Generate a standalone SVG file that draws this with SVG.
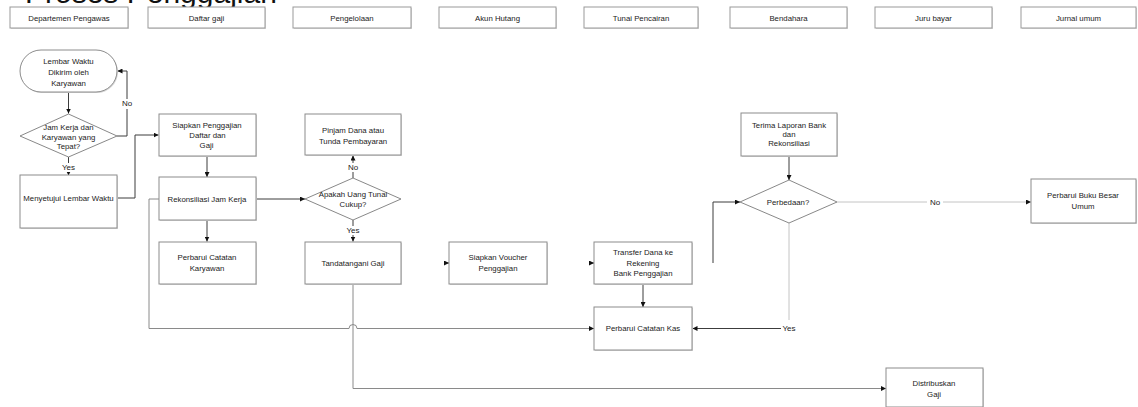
<svg xmlns="http://www.w3.org/2000/svg" width="1138" height="407" viewBox="0 0 1138 407">
  <style>
    text { font-family: "Liberation Sans", Arial, sans-serif; font-size: 7.8px; fill: #222; text-anchor: middle; }
    .title { font-size: 30px; fill: #111; text-anchor: start; }
    .lbl { font-size: 8px; }
    .box { fill: #fff; stroke: #8c8c8c; stroke-width: 1; }
    .shadow { fill: #d9d9d9; }
    .dia { fill: #fff; stroke: #7a7a7a; stroke-width: 0.9; }
    .lane { fill: #fff; stroke: #999; stroke-width: 1; }
    .c { fill: none; stroke: #3c3c3c; stroke-width: 1; }
    .cl { fill: none; stroke: #c4c4c4; stroke-width: 1; }
    .cm { fill: none; stroke: #8a8a8a; stroke-width: 1; }
    .bg { fill: #fff; }
  </style>
  <defs>
    <marker id="ah" markerWidth="5" markerHeight="5" refX="5" refY="2.5" orient="auto" markerUnits="userSpaceOnUse">
      <path d="M0,0 L5,2.5 L0,5 z" fill="#111"/>
    </marker>
  </defs>

  <rect width="1138" height="407" fill="#fff"/>

  <!-- heading, mostly above the top edge -->
  <text class="title" x="25" y="3">Proses Penggajian</text>

  <!-- swimlane headers -->
  <g id="lanes">
    <rect class="shadow" x="11" y="8" width="118" height="21"/><rect class="lane" x="10" y="7" width="118" height="21"/><text x="69" y="20.5">Departemen Pengawas</text>
    <rect class="shadow" x="149" y="8" width="117" height="21"/><rect class="lane" x="148" y="7" width="117" height="21"/><text x="206.5" y="20.5">Daftar gaji</text>
    <rect class="shadow" x="294" y="8" width="118" height="21"/><rect class="lane" x="293" y="7" width="118" height="21"/><text x="352" y="20.5">Pengelolaan</text>
    <rect class="shadow" x="440" y="8" width="117" height="21"/><rect class="lane" x="439" y="7" width="117" height="21"/><text x="497.5" y="20.5">Akun Hutang</text>
    <rect class="shadow" x="585" y="8" width="114" height="21"/><rect class="lane" x="584" y="7" width="114" height="21"/><text x="641" y="20.5">Tunai Pencairan</text>
    <rect class="shadow" x="731" y="8" width="117" height="21"/><rect class="lane" x="730" y="7" width="117" height="21"/><text x="788.5" y="20.5">Bendahara</text>
    <rect class="shadow" x="876" y="8" width="117" height="21"/><rect class="lane" x="875" y="7" width="117" height="21"/><text x="933.5" y="20.5">Juru bayar</text>
    <rect class="shadow" x="1022" y="8" width="115" height="21"/><rect class="lane" x="1021" y="7" width="115" height="21"/><text x="1078.5" y="20.5">Jurnal umum</text>
  </g>

  <!-- connectors -->
  <g id="connectors">
    <path class="c" d="M68.5,92 V113.5" marker-end="url(#ah)"/>
    <path class="c" d="M117,136 H127 V71 H117.5" marker-end="url(#ah)"/>
    <path class="c" d="M68.5,157 V175.5" marker-end="url(#ah)"/>
    <path class="c" d="M117,198 H135 V135 H158.5" marker-end="url(#ah)"/>
    <path class="c" d="M207,156 V177" marker-end="url(#ah)"/>
    <path class="c" d="M207,220 V241.5" marker-end="url(#ah)"/>
    <path class="c" d="M256,199 H305" marker-end="url(#ah)"/>
    <path class="c" d="M353,178 V155.5" marker-end="url(#ah)"/>
    <path class="c" d="M353,220 V241.5" marker-end="url(#ah)"/>
    <path class="cm" d="M159,199 H149 V328.5 H349 a4,4 0 0 1 8,0 H594" marker-end="url(#ah)"/>
    <path class="cm" d="M353,284 V388.5 H886" marker-end="url(#ah)"/>
    <path class="c" d="M444,263 H449" marker-end="url(#ah)"/>
    <path class="c" d="M589,263 H594" marker-end="url(#ah)"/>
    <path class="c" d="M643,284 V307" marker-end="url(#ah)"/>
    <path class="cl" d="M789,223 V320"/>
    <path class="c" d="M781,328.5 H692.5" marker-end="url(#ah)"/>
    <path class="c" d="M789,156 V180" marker-end="url(#ah)"/>
    <path class="c" d="M713,263 V202 H740" marker-end="url(#ah)"/>
    <path class="cl" d="M837,202 H1031" marker-end="url(#ah)"/>

    <rect class="bg" x="120" y="99" width="14" height="10"/>
    <text class="lbl" x="127" y="106">No</text>
    <rect class="bg" x="60" y="163" width="17" height="9"/>
    <text class="lbl" x="68.5" y="170">Yes</text>
    <rect class="bg" x="346" y="163" width="14" height="9"/>
    <text class="lbl" x="353" y="170">No</text>
    <rect class="bg" x="345" y="226" width="17" height="9"/>
    <text class="lbl" x="353" y="233">Yes</text>
    <rect class="bg" x="927" y="197" width="16" height="10"/>
    <text class="lbl" x="935" y="205">No</text>
    <text class="lbl" x="789" y="331">Yes</text>
  </g>

  <!-- nodes -->
  <g id="n-lembar">
    <rect class="shadow" x="21" y="51" width="97" height="42" rx="21"/>
    <rect class="box" x="20" y="50" width="97" height="42" rx="21"/>
    <text x="68.5" y="63.5">Lembar Waktu</text>
    <text x="68.5" y="75">Dikirim oleh</text>
    <text x="68.5" y="86">Karyawan</text>
  </g>
  <g id="n-jamkerja">
    <polygon class="dia" points="68.5,114 117,136 68.5,157 20,136"/>
    <text x="68.5" y="130">Jam Kerja dan</text>
    <text x="68.5" y="139.5">Karyawan yang</text>
    <text x="68.5" y="149">Tepat?</text>
  </g>
  <g id="n-menyetujui">
    <rect class="shadow" x="21" y="176" width="97" height="53"/>
    <rect class="box" x="20" y="175" width="97" height="53"/>
    <text x="68.5" y="201">Menyetujui Lembar Waktu</text>
  </g>
  <g id="n-siapkan">
    <rect class="shadow" x="160" y="115" width="97" height="42"/>
    <rect class="box" x="159" y="114" width="97" height="42"/>
    <text x="207" y="128">Siapkan Penggajian</text>
    <text x="207.5" y="138">Daftar dan</text>
    <text x="206.5" y="148">Gaji</text>
  </g>
  <g id="n-rekonsiliasi">
    <rect class="shadow" x="160" y="178" width="97" height="43"/>
    <rect class="box" x="159" y="177" width="97" height="43"/>
    <text x="207" y="202">Rekonsiliasi Jam Kerja</text>
  </g>
  <g id="n-karyawan">
    <rect class="shadow" x="160" y="243" width="97" height="42"/>
    <rect class="box" x="159" y="242" width="97" height="42"/>
    <text x="207" y="260">Perbarui Catatan</text>
    <text x="207" y="270.5">Karyawan</text>
  </g>
  <g id="n-pinjam">
    <rect class="shadow" x="306" y="115" width="96" height="41"/>
    <rect class="box" x="305" y="114" width="96" height="41"/>
    <text x="353" y="133">Pinjam Dana atau</text>
    <text x="353" y="144">Tunda Pembayaran</text>
  </g>
  <g id="n-apakah">
    <polygon class="dia" points="353,178 401,199 353,220 305,199"/>
    <text x="353" y="197">Apakah Uang Tunai</text>
    <text x="353" y="207">Cukup?</text>
  </g>
  <g id="n-tandatangani">
    <rect class="shadow" x="306" y="243" width="96" height="42"/>
    <rect class="box" x="305" y="242" width="96" height="42"/>
    <text x="353" y="266">Tandatangani Gaji</text>
  </g>
  <g id="n-voucher">
    <rect class="shadow" x="450" y="243" width="98" height="42"/>
    <rect class="box" x="449" y="242" width="98" height="42"/>
    <text x="498" y="260">Siapkan Voucher</text>
    <text x="498" y="271">Penggajian</text>
  </g>
  <g id="n-transfer">
    <rect class="shadow" x="595" y="243" width="98" height="42"/>
    <rect class="box" x="594" y="242" width="98" height="42"/>
    <text x="643" y="255">Transfer Dana ke</text>
    <text x="643" y="265.5">Rekening</text>
    <text x="643" y="276">Bank Penggajian</text>
  </g>
  <g id="n-kas">
    <rect class="shadow" x="595" y="308" width="98" height="43"/>
    <rect class="box" x="594" y="307" width="98" height="43"/>
    <text x="643" y="331">Perbarui Catatan Kas</text>
  </g>
  <g id="n-terima">
    <rect class="shadow" x="742" y="114" width="96" height="43"/>
    <rect class="box" x="741" y="113" width="96" height="43"/>
    <text x="789" y="128">Terima Laporan Bank</text>
    <text x="789" y="137">dan</text>
    <text x="789" y="146">Rekonsiliasi</text>
  </g>
  <g id="n-perbedaan">
    <polygon class="dia" points="789,180 837,202 789,223 740,202"/>
    <text x="788" y="205">Perbedaan?</text>
  </g>
  <g id="n-bukubesar">
    <rect class="shadow" x="1032" y="180" width="105" height="44"/>
    <rect class="box" x="1031" y="179" width="105" height="44"/>
    <text x="1083" y="198">Perbarui Buku Besar</text>
    <text x="1083" y="209">Umum</text>
  </g>
  <g id="n-distribuskan">
    <rect class="shadow" x="887" y="369" width="97" height="39"/>
    <rect class="box" x="886" y="368" width="97" height="39"/>
    <text x="934" y="386">Distribuskan</text>
    <text x="934" y="397">Gaji</text>
  </g>
</svg>
